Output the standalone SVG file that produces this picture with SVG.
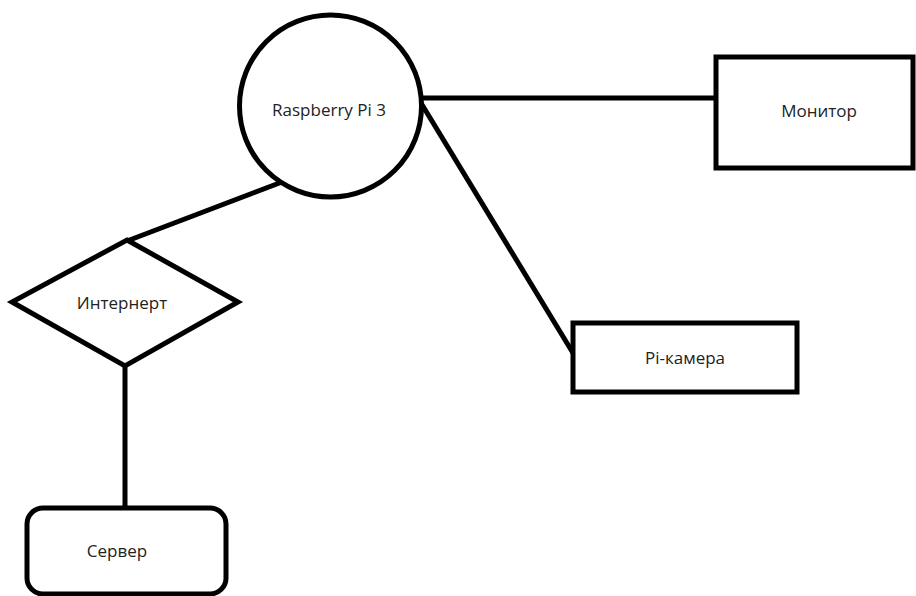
<svg xmlns="http://www.w3.org/2000/svg" width="916" height="596" viewBox="0 0 916 596">
<style>
.s{fill:#fff;stroke:#000;stroke-width:5}
.l{stroke:#000;stroke-width:5;fill:none}
.t{font-family:"Open Sans","Liberation Sans",Arial,sans-serif;font-size:17px;fill:#222;text-anchor:middle;dominant-baseline:central}
</style>
<rect width="916" height="596" fill="#fff"/>
<g id="connectors">
<line class="l" x1="423" y1="98" x2="716" y2="98"/>
<line class="l" x1="421" y1="103" x2="573" y2="353"/>
<line class="l" x1="282" y1="182" x2="127" y2="241"/>
<line class="l" x1="125" y1="366" x2="125" y2="508"/>
</g>
<g id="raspberry">
<circle class="s" cx="330.5" cy="106" r="91"/>
<text class="t" x="329" y="109">Raspberry Pi 3</text>
</g>
<g id="monitor">
<rect class="s" x="716" y="57" width="197" height="111"/>
<text class="t" x="819" y="110">Монитор</text>
</g>
<g id="internet">
<polygon class="s" points="127,240 238,302 125,366 12,302"/>
<text class="t" x="122" y="302">Интернерт</text>
</g>
<g id="camera">
<rect class="s" x="573" y="323" width="224" height="69"/>
<text class="t" x="685" y="357">Pi-камера</text>
</g>
<g id="server">
<rect class="s" x="27" y="508" width="199" height="86" rx="16"/>
<text class="t" x="117" y="550">Сервер</text>
</g>
</svg>
